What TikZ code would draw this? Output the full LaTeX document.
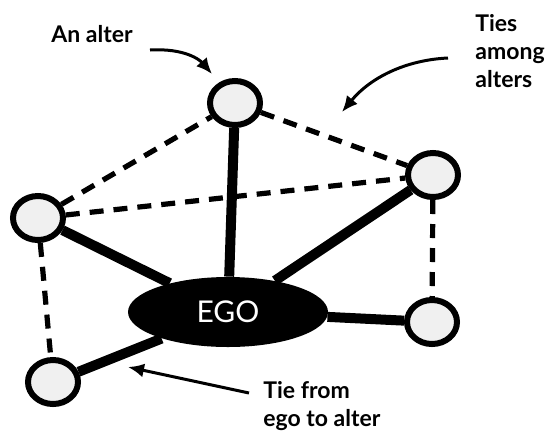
\documentclass[tikz,border=0pt]{standalone}
\usepackage{fontspec}
\setmainfont{Lato}
\usetikzlibrary{arrows.meta,positioning,shapes.geometric}

\begin{document}
\begin{tikzpicture}[x=0.5pt,y=-0.5pt,
  alter/.style={draw, line width=3pt, ellipse, fill=gray!12, minimum width=25pt, minimum height=22pt, inner sep=0pt},
  ego/.style={ellipse, fill=black, text=white, minimum width=100pt, minimum height=35pt, inner sep=0pt, font=\fontsize{15}{18}\selectfont},
  egotie/.style={line width=5pt},
  alttie/.style={line width=2.6pt, dash pattern=on 7pt off 5pt},
  lbl/.style={align=left, inner sep=0pt, font=\fontsize{11.5}{14}\selectfont\bfseries},
  arr/.style={-{Latex[length=8pt,width=7pt]}, line width=1.5pt}
]
\useasboundingbox (0,0) rectangle (551,435);
\node[ego] (ego) at (228,312) {EGO};
\node[alter] (top) at (235,103) {};
\node[alter] (right) at (433,175) {};
\node[alter] (left) at (38,218) {};
\node[alter] (botleft) at (53,382) {};
\node[alter] (botright) at (432,322) {};
% ties from ego
\draw[egotie] (ego) -- (top);
\draw[egotie] (ego) -- (right);
\draw[egotie] (ego) -- (left);
\draw[egotie] (ego) -- (botleft);
\draw[egotie] (ego) -- (botright);
% ties among alters
\draw[alttie] (left) -- (top);
\draw[alttie] (top) -- (right);
\draw[alttie] (left) -- (right);
\draw[alttie] (left) -- (botleft);
\draw[alttie] (right) -- (botright);
% labels
\node[lbl] (alterlbl) at (92,34) {An alter};
\node[lbl, anchor=north west] (amonglbl) at (475,14) {Ties\\among\\alters};
\node[lbl, anchor=north west] (egolbl) at (263,381) {Tie from\\ego to alter};
\coordinate (alterfrom) at (150,50);
\coordinate (alterto) at (212,74);
\coordinate (amongfrom) at (448,58);
\coordinate (amongto) at (342,112);
\coordinate (egofrom) at (249,393);
\coordinate (egoto) at (128,367);
\draw[arr] (alterfrom) .. controls (185,48) and (200,60) .. (alterto);
\draw[arr] (amongfrom) .. controls (405,60) and (370,78) .. (amongto);
\draw[arr] (egofrom) -- (egoto);
\end{tikzpicture}
\end{document}
